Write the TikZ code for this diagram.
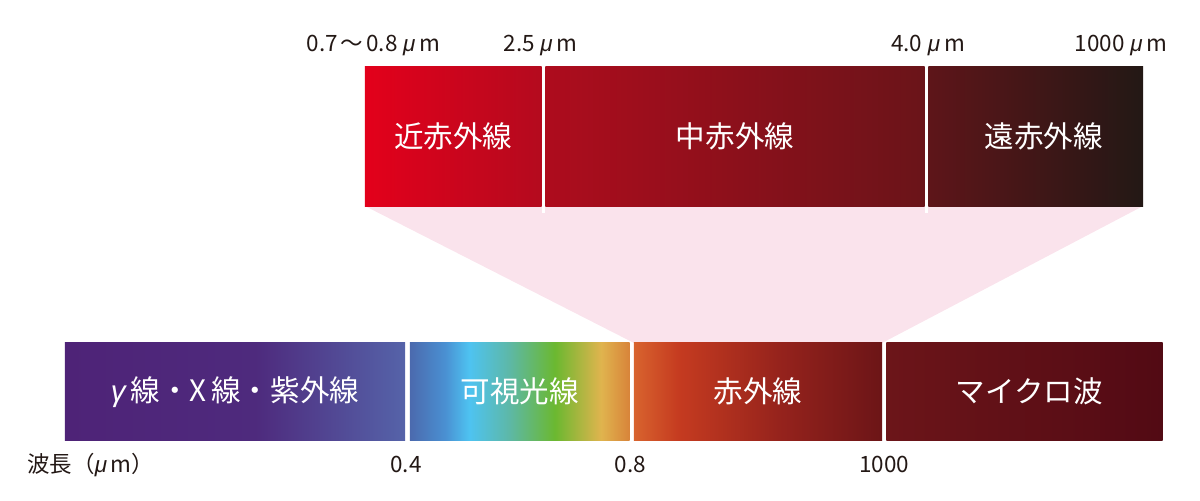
\documentclass[tikz,border=0pt]{standalone}
\usepackage{fontspec}
\setmainfont{Noto Sans CJK JP}
\newfontfamily\gkfont{Liberation Sans}
\usetikzlibrary{backgrounds}
\newcommand\mymu{{\gkfont\itshape μ}}
\newcommand\mygamma{{\gkfont\itshape γ}}
\definecolor{ink}{HTML}{231815}
\definecolor{pinkzone}{HTML}{FAE3EC}
\definecolor{v0}{HTML}{4B6AAE}
\definecolor{v1}{HTML}{4A90D2}
\definecolor{v2}{HTML}{4EC3F1}
\definecolor{v3}{HTML}{5DB8A8}
\definecolor{v4}{HTML}{6BB830}
\definecolor{v5}{HTML}{E0B44E}
\definecolor{v6}{HTML}{D8843A}
\definecolor{r0}{HTML}{D8632E}
\definecolor{r1}{HTML}{C53B20}
\definecolor{r2}{HTML}{94221C}
\definecolor{r3}{HTML}{6C1517}
\definecolor{u0}{HTML}{4E2377}
\definecolor{u1}{HTML}{4E2A7D}
\definecolor{u2}{HTML}{5563A9}
\pgfdeclarehorizontalshading{visspec}{100bp}{color(0bp)=(v0); color(25bp)=(v0); color(33bp)=(v1); color(38.5bp)=(v2); color(47.5bp)=(v3); color(58bp)=(v4); color(68.5bp)=(v5); color(75bp)=(v6); color(100bp)=(v6)}
\pgfdeclarehorizontalshading{irspec}{100bp}{color(0bp)=(r0); color(25bp)=(r0); color(34bp)=(r1); color(55bp)=(r2); color(75bp)=(r3); color(100bp)=(r3)}
\pgfdeclarehorizontalshading{uvspec}{100bp}{color(0bp)=(u0); color(25bp)=(u0); color(53bp)=(u1); color(75bp)=(u2); color(100bp)=(u2)}
\begin{document}
\begin{tikzpicture}[x=0.025cm,y=-0.025cm,
  seg/.style={inner sep=0pt, outer sep=0pt, text=white, font=\fontsize{21}{25}\selectfont},
  topseg/.style={seg, minimum height=3.475cm},
  botseg/.style={seg, minimum height=2.4375cm},
  lbl/.style={text=ink, font=\fontsize{16}{19}\selectfont, inner sep=0pt, anchor=base}]
\useasboundingbox (0,0) rectangle (1200,500);
% top bar
\node[topseg, minimum width=4.4125cm, shade, left color={rgb,255:red,227;green,0;blue,27}, right color={rgb,255:red,180;green,10;blue,30}] (nir) at (453.25,136.5) {近赤外線};
\node[topseg, minimum width=9.475cm, shade, left color={rgb,255:red,174;green,12;blue,29}, right color={rgb,255:red,106;green,20;blue,25}] (mir) at (735,136.5) {中赤外線};
\node[topseg, minimum width=5.3625cm, shade, left color={rgb,255:red,94;green,21;blue,25}, right color=ink] (fir) at (1035.75,136.5) {\hspace{0.4cm}遠赤外線};
% bottom bar
\node[botseg, minimum width=8.5cm, shade, shading=uvspec] (uv) at (235,391.75) {\mygamma\,線・X\,線・紫外線};
\node[botseg, minimum width=5.4875cm, shade, shading=visspec] (vis) at (519.75,391.75) {可視光線};
\node[botseg, minimum width=6.2cm, shade, shading=irspec] (ir) at (758,391.75) {赤外線};
\node[botseg, minimum width=6.9cm, shade, left color={rgb,255:red,108;green,21;blue,25}, right color={rgb,255:red,82;green,10;blue,20}] (mw) at (1024.5,391.75) {\hspace{0.25cm}マイクロ波};
% zoom wedge
\begin{pgfonlayer}{background}
\fill[pinkzone] (nir.south west) -- (fir.south east) -- (ir.north east) -- (ir.north west) -- cycle;
\end{pgfonlayer}
\fill[white] (nir.south east) rectangle ([yshift=-0.175cm]mir.south west);
\fill[white] (mir.south east) rectangle ([yshift=-0.175cm]fir.south west);
% top labels
\node[lbl] (t1) at (373.5,51) {0.7\hspace{2pt}～\hspace{2pt}0.8\hspace{4pt}\mymu\,m};
\node[lbl] (t2) at (540.5,51) {2.5\hspace{4pt}\mymu\,m};
\node[lbl] (t3) at (928,51) {4.0\hspace{4pt}\mymu\,m};
\node[lbl] (t4) at (1121,51) {1000\hspace{4pt}\mymu\,m};
% bottom labels
\node[lbl, anchor=base west] (b0) at (27,472) {波長（\mymu\,m）};
\node[lbl] (b1) at (406,472) {0.4};
\node[lbl] (b2) at (630.5,472) {0.8};
\node[lbl] (b3) at (884,472) {1000};
\end{tikzpicture}
\end{document}
